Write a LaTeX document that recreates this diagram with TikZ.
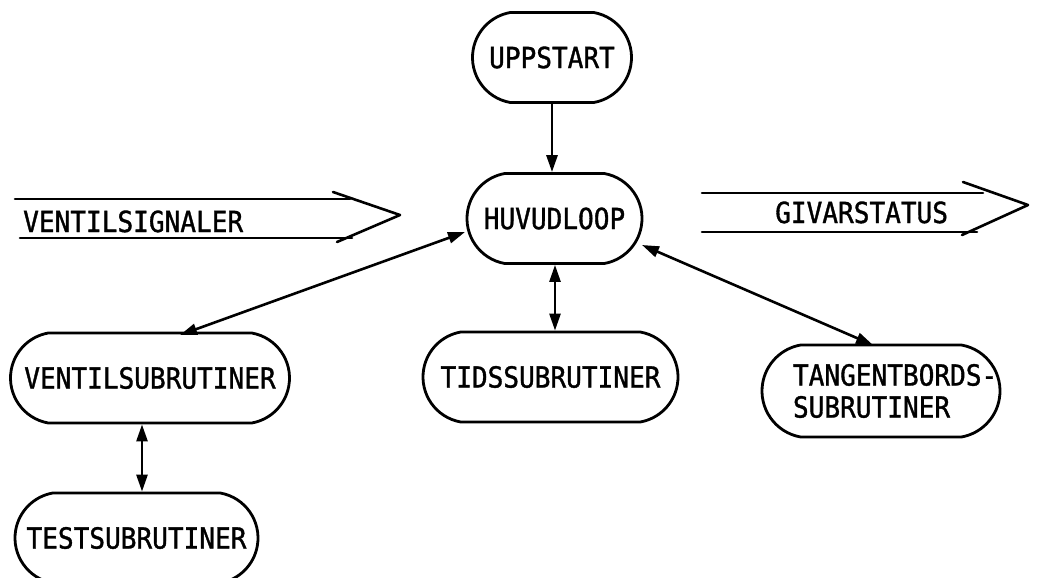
\documentclass[tikz,border=0pt]{standalone}
\usepackage{fontspec}
\setmainfont{DejaVu Sans Mono}[FakeBold=1.2,FakeStretch=0.9]
\usetikzlibrary{shapes.misc,arrows.meta,calc}
\begin{document}
\begin{tikzpicture}[x=1pt,y=-1pt,
  box/.style={draw, line width=2.8pt, rounded rectangle, rounded rectangle arc length=160,
    minimum height=90pt, inner sep=0pt, font=\fontsize{29}{32}\selectfont},
  oneway/.style={line width=2.8pt, -{Triangle[length=17pt,width=11pt]}},
  twoway/.style={line width=2.6pt, {Triangle[length=17pt,width=11pt]}-{Triangle[length=17pt,width=11pt]}},
  bigline/.style={line width=2.6pt, line cap=round, line join=round},
  lbl/.style={anchor=base west, inner sep=0pt, font=\fontsize{29}{32}\selectfont}]
\useasboundingbox (0,0) rectangle (1039,578);

% nodes
\node[box, minimum width=159pt] (up) at (552,57.5) {UPPSTART};
\node[box, minimum width=175pt] (hl) at (554.5,218.5) {HUVUDLOOP};
\node[box, minimum width=279pt] (vs) at (150,378) {VENTILSUBRUTINER};
\node[box, minimum width=243pt] (ts) at (136.5,538) {TESTSUBRUTINER};
\node[box, minimum width=255pt] (tid) at (550.5,377) {TIDSSUBRUTINER};
\node[box, minimum width=238pt, minimum height=92pt, align=left] (tg) at (881,391)
  {\makebox[176pt][l]{TANGENTBORDS-}\\\makebox[176pt][l]{SUBRUTINER}};

% connector end points
\coordinate (hlA) at ($(hl.center)+(-89.5,13.5)$);
\coordinate (vsA) at ($(vs.center)+(30,-43)$);
\coordinate (hlB) at ($(hl.south)+(0.5,0)$);
\coordinate (hlC) at ($(hl.center)+(87.5,26.5)$);
\coordinate (tgA) at ($(tg.center)+(-8,-46)$);
\coordinate (vsB) at ($(vs.south)+(-8,0)$);

% connectors
\draw[oneway] (up.south) -- (up.south |- hl.north);
\draw[twoway] (hlA) -- (vsA);
\draw[twoway] (hlB) -- (hlB |- tid.north);
\draw[twoway] (hlC) -- (tgA);
\draw[twoway] (vsB) -- (vsB |- ts.north);

% input signal arrow
\draw[bigline] (15,199) -- (350,199);
\draw[bigline] (20,238) -- (352,238);
\draw[bigline] (333,192) -- (400,215) -- (337,242);
\node[lbl] (vsig) at (23,232) {VENTILSIGNALER};

% output signal arrow
\draw[bigline] (702,193) -- (983,193);
\draw[bigline] (702,232) -- (977,232);
\draw[bigline] (963,182) -- (1028,205) -- (962,235);
\node[lbl] (gstat) at (775,223) {GIVARSTATUS};
\end{tikzpicture}
\end{document}
